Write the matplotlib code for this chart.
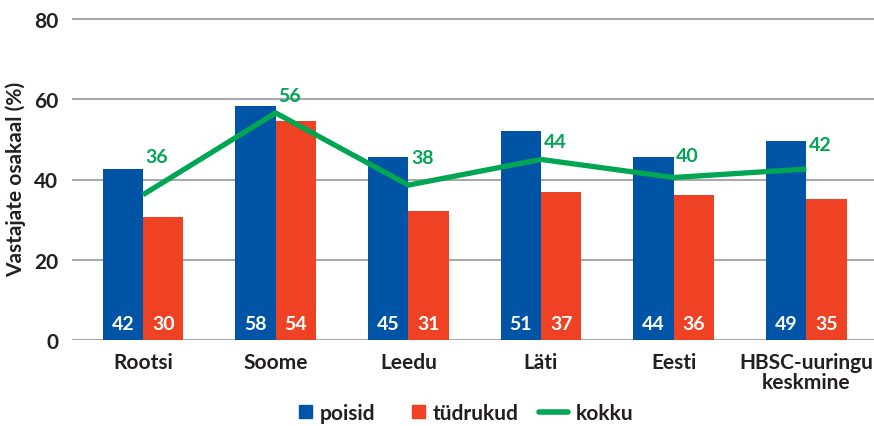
import numpy as np
import matplotlib.pyplot as plt
from matplotlib.patches import Patch, Rectangle
from matplotlib.lines import Line2D
from matplotlib.legend_handler import HandlerPatch

# andmed
riigid = ['Rootsi', 'Soome', 'Leedu', 'Läti', 'Eesti', 'HBSC-uuringu\nkeskmine']
poisid = [42.6, 58.3, 45.6, 52.0, 45.6, 49.6]
tudrukud = [30.7, 54.6, 32.2, 36.9, 36.2, 35.2]
kokku = [36.2, 56.6, 38.6, 45.0, 40.5, 42.6]
poisid_lbl = [42, 58, 45, 51, 44, 49]
tudrukud_lbl = [30, 54, 31, 37, 36, 35]
kokku_lbl = [36, 56, 38, 44, 40, 42]

########## stiil ##########
c_blue = '#0054a6'
c_red = '#ef4123'
c_green = '#00a651'
c_text = '#231f20'
c_grid = '#a7a9ac'
bar_w = 0.305
kokku_dy = [9.5, 4.3, 7.0, 4.5, 5.5, 6.0]  # sildi nihe joone kohal
fs = 14

plt.rcParams['font.family'] = ['Lato', 'DejaVu Sans']
plt.rcParams['font.weight'] = 'bold'


def square(legend, orig_handle, xdescent, ydescent, width, height, fontsize):
    s = 13 * 72 / 100
    return Rectangle((-xdescent + width - s, -ydescent + (height - s) / 2), s, s)


def main():
    fig = plt.figure(figsize=(8.74, 4.27), dpi=100)
    ax = fig.add_axes([72 / 874, 1 - 341 / 427, 1 - 72 / 874, (341 - 20) / 427 * 80.4 / 80])
    x = np.arange(len(riigid))

    ax.bar(x - bar_w / 2, poisid, bar_w, color=c_blue, zorder=2)
    ax.bar(x + bar_w / 2, tudrukud, bar_w, color=c_red, zorder=2)
    ax.plot(x, kokku, color=c_green, lw=3.8, zorder=3, solid_capstyle='butt')

    for i in range(len(x)):
        ax.text(x[i] - bar_w / 2, 4, str(poisid_lbl[i]), color='white', ha='center', va='center',
                fontsize=fs, fontweight='bold', zorder=4)
        ax.text(x[i] + bar_w / 2, 4, str(tudrukud_lbl[i]), color='white', ha='center', va='center',
                fontsize=fs, fontweight='bold', zorder=4)
        ax.text(x[i] + 0.02, kokku[i] + kokku_dy[i], str(kokku_lbl[i]), color=c_green, ha='left',
                va='center', fontsize=fs, fontweight='bold', zorder=4)

    ax.set_xlim(-0.535, 5.51)
    ax.set_ylim(0, 80.4)
    ax.set_yticks([0, 20, 40, 60, 80])
    ax.yaxis.grid(True, color=c_grid, lw=1.5, zorder=0)
    ax.set_axisbelow(True)
    for sp in ax.spines.values():
        sp.set_visible(False)
    ax.tick_params(axis='both', length=0, labelsize=fs + 1, labelcolor=c_text)
    ax.tick_params(axis='y', pad=10)
    ax.tick_params(axis='x', pad=9)
    ax.set_xticks(x)
    ax.set_xticklabels(riigid, linespacing=1.0)
    for t in ax.get_yticklabels() + ax.get_xticklabels():
        t.set_fontweight('bold')
    ax.set_ylabel('Vastajate osakaal (%)', fontsize=fs + 1, fontweight='bold', color=c_text)
    ax.yaxis.set_label_coords(-0.057, 0.5)

    handles = [Patch(color=c_blue), Patch(color=c_red), Line2D([], [], color=c_green, lw=4, solid_capstyle='round')]
    names = ['poisid', 'tüdrukud', 'kokku']
    leg = fig.legend(handles, names, loc='center', bbox_to_anchor=(0.524, 0.03), ncol=3, frameon=False,
                     fontsize=fs + 1, handlelength=1.4, handletextpad=0.35, columnspacing=1.0,
                     borderpad=0, handler_map={Patch: HandlerPatch(patch_func=square)})
    for t in leg.get_texts():
        t.set_color(c_text)
        t.set_fontweight('bold')

    plt.savefig('out.png', dpi=100)


if __name__ == "__main__":
    main()
